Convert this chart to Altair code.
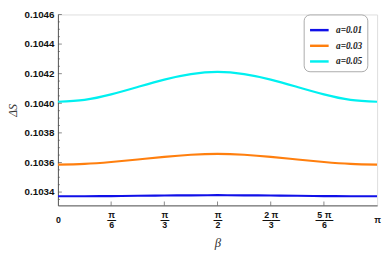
import altair as alt
import pandas as pd
import math

PI = math.pi
# beta grid: k*pi/12
beta_frac = [0, 1, 2, 3, 4, 5, 6, 7, 8, 9, 10, 11, 12]
series_names = ["a=0.01", "a=0.03", "a=0.05"]
vals_001 = [0.103372, 0.103372, 0.103373, 0.103375, 0.103377, 0.103378, 0.103379,
            0.103378, 0.103377, 0.103375, 0.103373, 0.103372, 0.103372]
vals_003 = [0.103585, 0.103590, 0.103603, 0.103620, 0.103638, 0.103652, 0.103658,
            0.103652, 0.103638, 0.103620, 0.103603, 0.103590, 0.103585]
vals_005 = [0.104010, 0.104023, 0.104060, 0.104110, 0.104160, 0.104197, 0.104212,
            0.104197, 0.104160, 0.104110, 0.104060, 0.104023, 0.104010]
colors = ["#1010e8", "#ff7f0e", "#00f0f0"]

y_major = [0.1034, 0.1036, 0.1038, 0.1040, 0.1042, 0.1044, 0.1046]
y_minor = [0.10335 + 0.00005 * i for i in range(0, 25) if (i % 4) != 1]
x_ticks_frac = [0, 1, 2, 3, 4, 5, 6]  # multiples of pi/6

rows = []
for name, vals in zip(series_names, [vals_001, vals_003, vals_005]):
    for k, v in zip(beta_frac, vals):
        rows.append({"beta": k * PI / 12, "dS": v, "series": name})
df = pd.DataFrame(rows)

xscale = alt.Scale(domain=[0, PI], nice=False, zero=False)
yscale = alt.Scale(domain=[0.10331, 0.1046], nice=False, zero=False)

label_expr = (
    "abs(datum.value) < 0.01 ? ['', '0'] : "
    "abs(datum.value - PI/6) < 0.01 ? ['π', '—', '6'] : "
    "abs(datum.value - PI/3) < 0.01 ? ['π', '—', '3'] : "
    "abs(datum.value - PI/2) < 0.01 ? ['π', '—', '2'] : "
    "abs(datum.value - 2*PI/3) < 0.01 ? ['2 π', '——', '3'] : "
    "abs(datum.value - 5*PI/6) < 0.01 ? ['5 π', '——', '6'] : ['', 'π']"
)

xaxis = alt.Axis(values=[k * PI / 6 for k in x_ticks_frac], labelExpr=label_expr,
                 title="β", tickSize=0, labelPadding=5, labelLineHeight=5.5,
                 labelFont="Liberation Sans", labelFontWeight="bold", labelFontSize=9,
                 labelColor="#111", titleFont="Liberation Serif", titleFontStyle="italic",
                 titleFontWeight="normal", titleFontSize=13, titleColor="#333",
                 titlePadding=7, domainColor="#555", labelFlush=False,
                 labelOverlap=False, grid=False)
yaxis = alt.Axis(values=y_major, format=".4f", title="ΔS", tickSize=0,
                 labelPadding=4, labelFont="Liberation Sans", labelFontWeight="bold",
                 labelFontSize=10, labelColor="#111", titleFont="Liberation Serif",
                 titleFontStyle="italic", titleFontWeight="normal", titleFontSize=12,
                 titleColor="#333", titlePadding=5, domainColor="#555",
                 labelOverlap=False, grid=False)

lines = alt.Chart(df).mark_line(strokeWidth=2.2, interpolate="natural", clip=True).encode(
    x=alt.X("beta:Q", scale=xscale, axis=xaxis),
    y=alt.Y("dS:Q", scale=yscale, axis=yaxis),
    color=alt.Color("series:N", scale=alt.Scale(domain=series_names, range=colors),
                    legend=alt.Legend(title=None, orient="none", legendX=251, legendY=0,
                                      symbolType="stroke", symbolSize=361, symbolStrokeWidth=2.5,
                                      labelFont="Liberation Serif", labelFontStyle="italic",
                                      labelFontWeight="bold", labelFontSize=9.5, labelColor="#222",
                                      padding=5, rowPadding=-1.5, labelOffset=6,
                                      strokeColor="#aaa", fillColor="white", cornerRadius=6)),
)

ymaj_df = pd.DataFrame({"v": y_major})
ymin_df = pd.DataFrame({"v": y_minor})
xt_df = pd.DataFrame({"v": [k * PI / 6 for k in x_ticks_frac[1:-1]]})

ytick_major = alt.Chart(ymaj_df).mark_tick(orient="horizontal", size=4, xOffset=2,
                                            color="#555", thickness=1).encode(
    y=alt.Y("v:Q", scale=yscale, axis=yaxis), x=alt.value(0))
ytick_minor = alt.Chart(ymin_df).mark_tick(orient="horizontal", size=2, xOffset=1,
                                            color="#555", thickness=1).encode(
    y=alt.Y("v:Q", scale=yscale, axis=yaxis), x=alt.value(0))
xtick = alt.Chart(xt_df).mark_tick(orient="vertical", size=4, yOffset=-2,
                                   color="#555", thickness=1).encode(
    x=alt.X("v:Q", scale=xscale, axis=xaxis), y=alt.value(195))

chart = alt.layer(lines, ytick_major, ytick_minor, xtick).properties(
    width=326, height=195,
    autosize=alt.AutoSizeParams(type="none"),
    padding={"left": 51, "top": 4, "right": 5, "bottom": 45},
).configure_view(stroke="#aaa", strokeWidth=1).configure(background="white")

chart.save("out.html", embed_options={"renderer": "svg", "actions": False})
